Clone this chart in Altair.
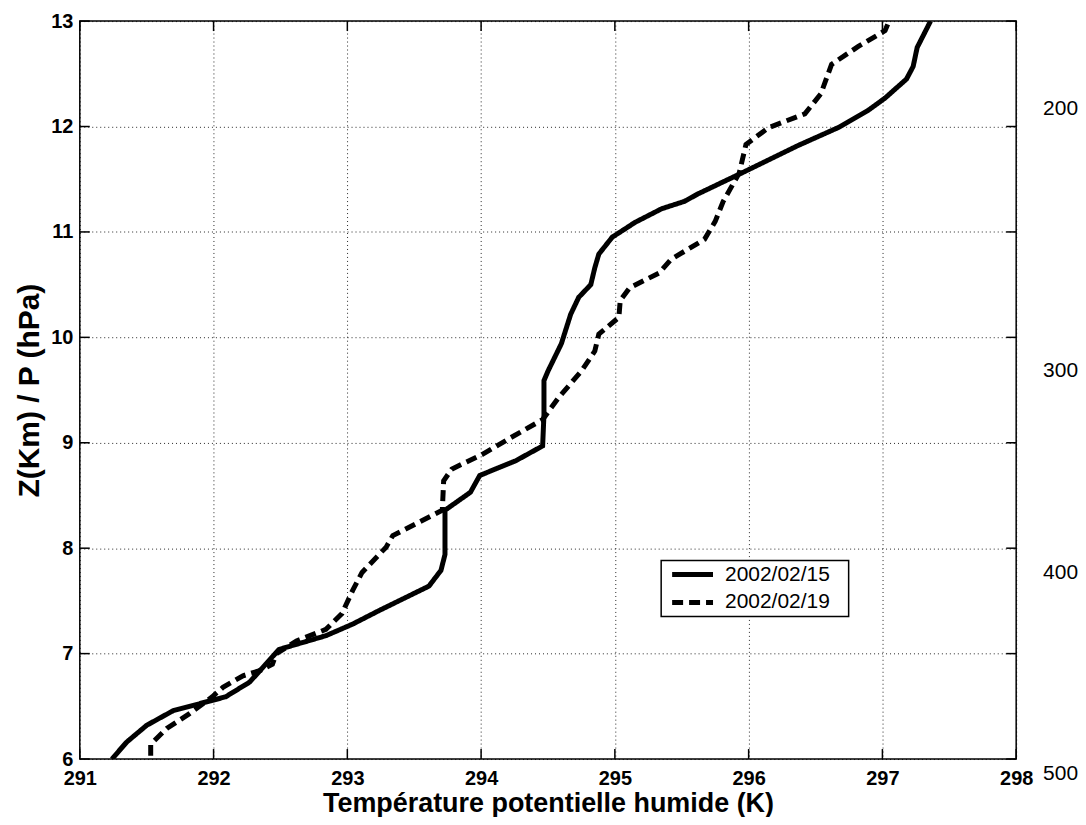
import altair as alt
import pandas as pd

# ---- data ----
series_names = ["2002/02/15", "2002/02/19"]

solid_T = [291.24, 291.35, 291.50, 291.70, 291.97, 292.09, 292.27, 292.39, 292.49, 292.84,
           293.04, 293.24, 293.61, 293.70, 293.73, 293.73, 293.92, 293.99, 294.26, 294.46,
           294.47, 294.47, 294.50, 294.60, 294.67, 294.73, 294.82, 294.85, 294.88, 294.98,
           295.15, 295.35, 295.52, 295.62, 295.95, 296.37, 296.67, 296.89, 297.02, 297.18,
           297.23, 297.26, 297.36]
solid_Z = [6.00, 6.16, 6.32, 6.46, 6.55, 6.59, 6.73, 6.90, 7.04, 7.17,
           7.28, 7.41, 7.64, 7.79, 7.94, 8.36, 8.53, 8.69, 8.83, 8.97,
           9.27, 9.59, 9.68, 9.94, 10.22, 10.38, 10.50, 10.66, 10.79, 10.95,
           11.09, 11.22, 11.29, 11.36, 11.56, 11.82, 11.99, 12.15, 12.27, 12.45,
           12.57, 12.75, 13.00]

dashed_T = [291.53, 291.53, 291.65, 291.82, 291.99, 292.07, 292.22, 292.35, 292.44, 292.47,
            292.62, 292.84, 292.96, 293.04, 293.11, 293.29, 293.34, 293.51, 293.71, 293.72,
            293.78, 294.01, 294.21, 294.46, 294.58, 294.75, 294.85, 294.88, 295.03, 295.04,
            295.11, 295.33, 295.42, 295.67, 295.75, 295.81, 295.93, 295.98, 296.15, 296.42,
            296.54, 296.62, 296.82, 297.02, 297.05]
dashed_Z = [6.03, 6.14, 6.29, 6.43, 6.59, 6.68, 6.79, 6.84, 6.90, 7.00,
            7.12, 7.23, 7.38, 7.60, 7.77, 8.01, 8.12, 8.23, 8.36, 8.64,
            8.75, 8.89, 9.04, 9.22, 9.43, 9.68, 9.87, 10.03, 10.19, 10.35,
            10.47, 10.61, 10.74, 10.93, 11.10, 11.29, 11.56, 11.83, 11.99, 12.12,
            12.31, 12.59, 12.76, 12.91, 13.00]

x_ticks = [291, 292, 293, 294, 295, 296, 297, 298]
y_ticks = [6, 7, 8, 9, 10, 11, 12, 13]

p_labels = ["200", "300", "400", "500"]
p_heights = [12.17, 9.68, 7.76, 5.86]

# ---- layout ----
W, H = 939, 740
FONT = "Liberation Sans"

rows = []
for i, (t, z) in enumerate(zip(solid_T, solid_Z)):
    rows.append({"series": series_names[0], "T": t, "Z": z, "idx": i})
for i, (t, z) in enumerate(zip(dashed_T, dashed_Z)):
    rows.append({"series": series_names[1], "T": t, "Z": z, "idx": i})
df = pd.DataFrame(rows)

xscale = alt.Scale(domain=[291, 298], nice=False, zero=False)
yscale = alt.Scale(domain=[6, 13], nice=False, zero=False)
dash_scale = alt.Scale(domain=series_names, range=[[1, 0], [11, 6]])

x_axis = alt.Axis(values=x_ticks, title="Température potentielle humide (K)",
                  grid=True, gridColor="black", gridDash=[1, 3], gridWidth=1,
                  gridOpacity=0.85, ticks=False, domain=False,
                  labelFont=FONT, labelFontSize=20, labelFontWeight="bold",
                  labelColor="black", labelPadding=10, labelFlush=False,
                  titleFont=FONT, titleFontSize=27, titleFontWeight="bold",
                  titleColor="black", titlePadding=2)
y_axis = alt.Axis(values=y_ticks, title="Z(Km) / P (hPa)",
                  grid=True, gridColor="black", gridDash=[1, 3], gridWidth=1,
                  gridOpacity=0.85, ticks=False, domain=False,
                  labelFont=FONT, labelFontSize=20, labelFontWeight="bold",
                  labelColor="black", labelPadding=7, labelFlush=False,
                  titleFont=FONT, titleFontSize=30, titleFontWeight="bold",
                  titleColor="black", titlePadding=6)

lines = alt.Chart(df).mark_line(color="black", strokeWidth=5, strokeCap="butt", clip=True).encode(
    x=alt.X("T:Q", scale=xscale, axis=x_axis),
    y=alt.Y("Z:Q", scale=yscale, axis=y_axis),
    strokeDash=alt.StrokeDash("series:N", scale=dash_scale, legend=None),
    order="idx:Q",
)

xt = pd.DataFrame({"T": x_ticks})
yt = pd.DataFrame({"Z": y_ticks})
TL = 10
tick_style = dict(color="black", strokeWidth=1.5)

bottom_ticks = alt.Chart(xt).mark_rule(**tick_style).encode(
    x=alt.X("T:Q", scale=xscale, axis=x_axis), y=alt.value(H), y2=alt.value(H - TL))
top_ticks = alt.Chart(xt).mark_rule(**tick_style).encode(
    x=alt.X("T:Q", scale=xscale, axis=x_axis), y=alt.value(0), y2=alt.value(TL))
left_ticks = alt.Chart(yt).mark_rule(**tick_style).encode(
    y=alt.Y("Z:Q", scale=yscale, axis=y_axis), x=alt.value(0), x2=alt.value(TL))
right_ticks = alt.Chart(yt).mark_rule(**tick_style).encode(
    y=alt.Y("Z:Q", scale=yscale, axis=y_axis), x=alt.value(W), x2=alt.value(W - TL))

pdf = pd.DataFrame({"lab": p_labels, "Z": p_heights})
right_labels = alt.Chart(pdf).mark_text(
    align="left", baseline="middle", font=FONT, fontSize=21, color="black"
).encode(y=alt.Y("Z:Q", scale=yscale, axis=y_axis), x=alt.value(W + 27), text="lab:N")

# ---- legend ----
LX, LY, LW, LH = 583, 541, 188, 56
box = alt.Chart(pd.DataFrame({"a": [0]})).mark_rect(
    fill="white", stroke="black", strokeWidth=1.5
).encode(x=alt.value(LX), x2=alt.value(LX + LW), y=alt.value(LY), y2=alt.value(LY + LH))

leg_df = pd.DataFrame({"series": series_names, "row": [0, 1]})
leg_layers = []
for r, name in enumerate(series_names):
    yy = LY + 14 + r * 28
    base = alt.Chart(leg_df).transform_filter(alt.datum.series == name)
    leg_layers.append(base.mark_rule(color="black", strokeWidth=5, strokeCap="butt").encode(
        x=alt.value(LX + 11), x2=alt.value(LX + 52), y=alt.value(yy),
        strokeDash=alt.StrokeDash("series:N", scale=dash_scale, legend=None)))
    leg_layers.append(base.mark_text(align="left", baseline="middle", font=FONT,
                                     fontSize=21, color="black").encode(
        x=alt.value(LX + 64), y=alt.value(yy), text="series:N"))

chart = alt.layer(
    lines, bottom_ticks, top_ticks, left_ticks, right_ticks, right_labels, box, *leg_layers
).properties(
    width=W, height=H,
    autosize=alt.AutoSizeParams(type="none"),
    padding={"left": 72, "top": 12, "right": 62, "bottom": 57},
    background="white",
).configure_view(
    stroke="black", strokeWidth=1.5
)

chart.save("out.html", embed_options={"renderer": "svg", "actions": False})
